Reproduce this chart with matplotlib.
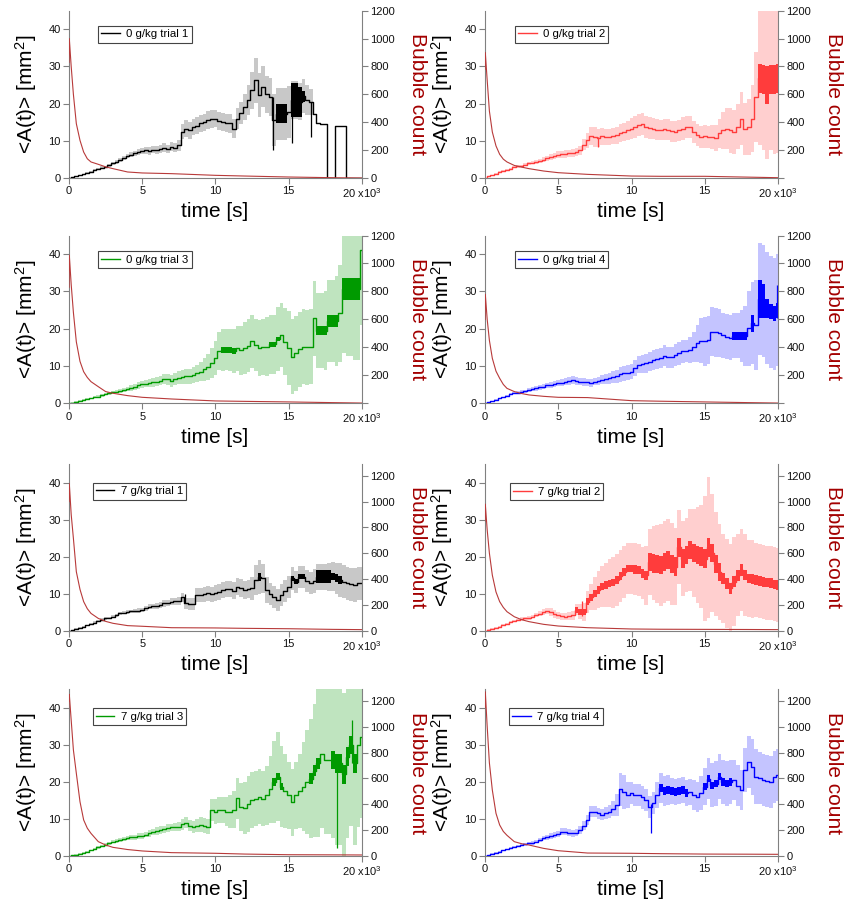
import numpy as np
import matplotlib
matplotlib.use("Agg")
import matplotlib.pyplot as plt

plt.rcParams['font.family'] = ['Liberation Sans', 'DejaVu Sans']
plt.rcParams['mathtext.fontset'] = 'custom'
plt.rcParams['mathtext.rm'] = 'Liberation Sans'
plt.rcParams['mathtext.it'] = 'Liberation Sans:italic'

# time grid of the averaged bubble area, in units of 10^3 s (0 ... 20, step 0.25)
t_k = np.arange(0, 20.001, 0.25)

# ---------- 0 g/kg trial 1 ----------
mean_0g_1 = [0, 0.2, 0.4, 0.7, 1.0, 1.3, 1.7, 2.1, 2.5, 2.8,
             3.0, 3.4, 3.9, 4.3, 4.8, 5.4, 5.9, 6.3, 6.6, 7.0,
             7.3, 7.4, 7.3, 7.6, 7.5, 7.9, 8.2, 7.8, 8.4, 8.2,
             8.8, 12.5, 13.3, 12.8, 13.8, 14.0, 14.7, 15.0, 15.5, 15.8,
             16.0, 15.4, 15.1, 14.8, 14.7, 13.3, 16.0, 17.5, 19.1, 21.0,
             23.6, 26.3, 22.3, 24.5, 22.5, 21.8, 15.5, 17.3, 17.3, 17.3,
             17.8, 21.0, 21.0, 20.5, 22.0, 21.0, 20.5, 17.3, 14.7, 14.6,
             14.5, 0, 0, 14.0, 14.0, 14.0, 0, 0, 0, 0,
             0]
band_0g_1 = [0, 0.1, 0.1, 0.15, 0.2, 0.2, 0.25, 0.25, 0.3, 0.3,
             0.35, 0.4, 0.4, 0.45, 0.5, 0.55, 0.6, 0.65, 0.7, 0.8,
             0.9, 0.9, 1.0, 1.0, 1.0, 1.1, 1.1, 1.2, 1.2, 1.3,
             1.5, 2.0, 2.2, 2.2, 2.2, 2.3, 2.3, 2.3, 2.4, 2.4,
             2.4, 2.4, 2.5, 2.5, 2.5, 2.6, 2.8, 3.0, 3.5, 4.0,
             5.0, 6.0, 6.0, 5.5, 5.0, 5.0, 7.0, 7.0, 7.0, 7.0,
             7.0, 5.0, 5.0, 5.0, 4.5, 4.0, 3.5, 0, 0, 0,
             0, 0, 0, 0, 0, 0, 0, 0, 0, 0,
             0]
dense_0g_1 = [0] * 57 + [2.6, 2.6, 2.6, 0, 4.5, 4.5, 4.0, 1.5] + [0] * 16
spike_t_0g_1 = [13.9, 15.2, 16.5]
spike_lo_0g_1 = [7.4, 9.3, 11.0]
spike_hi_0g_1 = [21.8, 25.4, 20.5]

# ---------- 0 g/kg trial 2 ----------
mean_0g_2 = [0, 0.4, 0.8, 1.2, 1.6, 1.9, 2.1, 2.5, 3.0, 3.1,
             3.2, 3.5, 3.9, 4.1, 4.3, 4.6, 4.9, 5.3, 5.7, 6.0,
             6.3, 6.4, 6.4, 6.6, 6.7, 7.0, 7.5, 9.0, 10.2, 11.3,
             11.1, 10.8, 11.2, 11.0, 11.1, 11.3, 11.5, 12.0, 12.4, 12.8,
             13.3, 13.8, 14.2, 14.5, 13.8, 13.5, 13.3, 13.0, 12.9, 13.1,
             13.0, 12.6, 12.4, 12.8, 13.3, 13.8, 13.8, 12.4, 11.5, 11.0,
             11.2, 11.0, 11.1, 10.8, 12.0, 12.8, 13.3, 12.8, 12.4, 13.8,
             16.0, 13.3, 13.8, 16.0, 21.8, 26.8, 26.5, 25.0, 26.5, 26.5,
             26.8]
band_0g_2 = [0, 0.1, 0.1, 0.2, 0.2, 0.2, 0.3, 0.3, 0.3, 0.3,
             0.35, 0.4, 0.4, 0.45, 0.5, 0.6, 0.7, 0.7, 0.8, 0.8,
             0.9, 0.9, 1.0, 1.0, 1.0, 1.0, 1.2, 1.5, 2.0, 2.5,
             2.7, 2.5, 2.3, 2.2, 2.2, 2.2, 2.3, 2.4, 2.5, 2.6,
             2.8, 3.0, 3.0, 3.0, 3.0, 3.0, 2.8, 2.8, 2.8, 2.8,
             2.8, 2.8, 2.8, 2.8, 3.0, 3.0, 3.0, 3.0, 3.0, 3.0,
             3.0, 3.0, 3.2, 3.5, 4.0, 5.0, 5.5, 6.0, 6.0, 6.0,
             7.0, 7.0, 7.5, 9.0, 12.0, 18.0, 19.0, 20.0, 19.0, 20.0,
             20.0]
dense_0g_2 = [0] * 75 + [4.0, 4.0, 5.0, 4.0, 4.0, 4.0]
spike_t_0g_2 = [7.7]
spike_lo_0g_2 = [8.4]
spike_hi_0g_2 = [11.0]

# ---------- 0 g/kg trial 3 ----------
mean_0g_3 = [0, 0.2, 0.45, 0.7, 0.9, 1.1, 1.3, 1.6, 1.8, 2.1,
             2.4, 2.7, 3.0, 3.1, 3.3, 3.5, 3.8, 4.1, 4.5, 4.8,
             5.1, 5.3, 5.4, 5.6, 5.8, 6.1, 6.5, 6.4, 6.0, 6.5,
             6.9, 7.1, 7.2, 7.3, 7.6, 8.0, 8.5, 9.1, 9.8, 10.8,
             12.1, 14.0, 14.3, 14.4, 14.3, 14.0, 14.8, 14.2, 14.9, 15.5,
             16.6, 15.6, 14.8, 15.0, 15.2, 15.8, 15.8, 17.2, 18.3, 16.5,
             14.8, 12.5, 13.4, 14.5, 15.2, 15.0, 15.2, 22.8, 19.5, 19.5,
             19.5, 22.1, 22.1, 22.1, 24.2, 30.6, 30.6, 30.6, 30.6, 30.6,
             41.0]
band_0g_3 = [0, 0.1, 0.1, 0.1, 0.2, 0.2, 0.2, 0.3, 0.3, 0.3,
             0.3, 0.4, 0.4, 0.4, 0.5, 0.5, 0.6, 0.7, 0.8, 0.9,
             1.0, 1.0, 1.1, 1.2, 1.2, 1.3, 1.4, 1.5, 1.5, 1.6,
             1.8, 1.8, 2.0, 2.0, 2.2, 2.4, 2.6, 3.0, 3.5, 4.0,
             4.5, 5.0, 5.5, 5.5, 5.5, 6.0, 6.0, 6.5, 7.0, 7.0,
             7.0, 7.0, 7.5, 7.5, 8.0, 8.0, 8.0, 8.5, 8.5, 9.0,
             10.0, 10.0, 10.0, 10.0, 10.0, 10.0, 10.0, 10.0, 10.0, 10.0,
             10.5, 11.0, 11.0, 12.0, 13.0, 17.0, 18.0, 18.0, 19.0, 19.0,
             20.0]
dense_0g_3 = ([0] * 42 + [0.8, 0.8, 0.8, 0.8] + [0] * 9 + [0.6, 0.6, 0.6]
              + [0] * 10 + [1.2, 1.2, 1.2, 1.6, 1.6, 1.6, 0, 3.0, 3.0, 3.0, 3.0, 3.0, 0])
spike_t_0g_3 = []
spike_lo_0g_3 = []
spike_hi_0g_3 = []

# ---------- 0 g/kg trial 4 ----------
mean_0g_4 = [0, 0.3, 0.6, 0.9, 1.3, 1.6, 2.0, 2.4, 2.7, 2.9,
             3.1, 3.3, 3.6, 3.8, 4.0, 4.3, 4.5, 4.8, 5.0, 5.2,
             5.4, 5.5, 5.8, 6.0, 6.3, 6.0, 5.8, 5.7, 5.6, 5.5,
             5.8, 6.0, 6.3, 6.5, 6.7, 7.0, 7.2, 7.8, 8.1, 8.2,
             8.5, 9.5, 10.3, 10.5, 10.7, 11.2, 11.6, 11.8, 12.1, 12.8,
             12.4, 12.3, 13.0, 13.4, 13.9, 14.0, 14.3, 15.0, 16.1, 16.8,
             16.6, 17.0, 19.2, 19.0, 18.8, 18.2, 17.9, 17.6, 18.1, 18.1,
             18.1, 18.1, 20.1, 21.5, 21.0, 28.0, 27.5, 25.5, 24.6, 24.0,
             25.0]
band_0g_4 = [0, 0.1, 0.1, 0.2, 0.2, 0.2, 0.3, 0.3, 0.3, 0.4,
             0.4, 0.4, 0.5, 0.5, 0.6, 0.6, 0.7, 0.7, 0.8, 0.8,
             0.8, 0.9, 0.9, 1.0, 1.0, 1.0, 1.0, 1.0, 1.0, 1.0,
             1.0, 1.1, 1.2, 1.3, 1.5, 1.6, 1.8, 2.0, 2.0, 2.0,
             2.0, 2.2, 2.3, 2.5, 2.5, 2.6, 2.6, 2.7, 2.7, 2.8,
             2.8, 2.8, 3.0, 3.0, 3.0, 3.0, 3.5, 4.0, 5.0, 6.0,
             6.5, 6.5, 6.5, 6.5, 6.5, 6.0, 6.0, 6.0, 6.0, 6.0,
             7.0, 8.0, 10.0, 11.0, 12.0, 15.0, 15.0, 15.0, 15.0, 15.0,
             15.0]
dense_0g_4 = [0] * 68 + [1.1, 1.1, 1.1, 1.1, 0, 2.3, 0, 5.0, 4.5, 2.5, 2.0, 2.0, 2.0]
spike_t_0g_4 = [19.9]
spike_lo_0g_4 = [23.0]
spike_hi_0g_4 = [31.8]

# ---------- 7 g/kg trial 1 ----------
mean_7g_1 = [0, 0.2, 0.5, 0.8, 1.1, 1.4, 1.8, 2.2, 2.6, 3.0,
             3.3, 3.5, 3.8, 4.2, 4.7, 4.9, 5.1, 5.2, 5.3, 5.4,
             5.6, 6.0, 6.5, 6.6, 6.7, 7.0, 7.4, 7.5, 7.8, 7.9,
             8.0, 9.0, 7.4, 7.2, 7.1, 9.6, 9.6, 9.8, 10.1, 9.8,
             10.1, 10.5, 11.0, 11.2, 11.3, 10.8, 11.9, 11.5, 11.0, 11.2,
             11.4, 13.7, 14.5, 14.1, 11.0, 10.0, 9.2, 8.3, 9.6, 10.8,
             11.9, 14.1, 13.2, 14.6, 14.6, 13.5, 12.8, 13.5, 14.6, 14.6,
             14.6, 14.6, 14.6, 14.2, 13.7, 13.2, 12.8, 12.5, 12.3, 12.8,
             12.8]
band_7g_1 = [0, 0.1, 0.1, 0.1, 0.2, 0.2, 0.2, 0.3, 0.3, 0.3,
             0.3, 0.3, 0.4, 0.4, 0.4, 0.5, 0.5, 0.5, 0.5, 0.6,
             0.6, 0.6, 0.7, 0.7, 0.8, 0.8, 0.9, 0.9, 1.0, 1.0,
             1.0, 1.2, 1.5, 1.5, 1.6, 1.8, 1.8, 2.0, 2.0, 2.0,
             2.2, 2.2, 2.2, 2.2, 2.2, 2.3, 2.3, 2.4, 2.5, 2.5,
             3.0, 4.0, 4.5, 4.0, 3.5, 3.0, 3.0, 3.0, 3.0, 3.0,
             3.0, 3.0, 3.0, 3.0, 3.0, 3.0, 3.0, 3.2, 3.5, 3.5,
             3.5, 3.8, 4.0, 4.2, 4.5, 4.5, 4.5, 4.5, 4.5, 4.5,
             4.5]
dense_7g_1 = ([0] * 52 + [1.2] + [0] * 8 + [0.7, 0.7, 0.7, 0.7] + [0] * 3
              + [1.8, 1.8, 1.8, 1.8, 1.0, 1.0, 1.0] + [0] * 6)
spike_t_7g_1 = [7.9]
spike_lo_7g_1 = [7.5]
spike_hi_7g_1 = [9.8]

# ---------- 7 g/kg trial 2 ----------
mean_7g_2 = [0, 0.3, 0.5, 0.8, 1.1, 1.5, 1.9, 2.3, 2.6, 2.9,
             3.2, 3.3, 3.5, 3.8, 4.2, 4.6, 5.1, 5.3, 5.0, 4.5,
             4.1, 3.9, 3.8, 4.0, 4.2, 5.6, 5.1, 5.1, 7.8, 9.0,
             10.1, 11.0, 11.9, 12.3, 12.8, 13.0, 13.7, 14.8, 15.9, 16.8,
             16.8, 16.6, 16.4, 15.5, 15.0, 18.6, 18.2, 18.0, 17.7, 18.5,
             19.1, 18.0, 17.3, 22.5, 19.5, 20.5, 21.8, 21.0, 20.4, 20.0,
             19.5, 22.5, 21.0, 18.0, 15.9, 14.0, 12.8, 11.4, 13.2, 15.0,
             16.4, 15.0, 14.1, 14.0, 13.7, 13.5, 13.2, 13.0, 12.8, 12.5,
             12.3]
band_7g_2 = [0, 0.1, 0.1, 0.2, 0.2, 0.2, 0.3, 0.3, 0.3, 0.3,
             0.4, 0.4, 0.5, 0.5, 0.6, 0.7, 0.8, 0.9, 1.0, 1.0,
             1.0, 1.0, 1.0, 1.0, 1.2, 1.5, 2.0, 2.5, 3.0, 3.5,
             4.5, 5.0, 5.5, 6.0, 6.5, 7.0, 7.0, 7.0, 7.0, 7.0,
             7.0, 7.0, 7.0, 7.0, 8.0, 9.0, 10.0, 10.5, 11.0, 11.0,
             11.0, 11.0, 10.5, 10.0, 10.0, 10.0, 11.0, 12.0, 13.0, 14.0,
             17.0, 19.0, 16.0, 14.0, 13.0, 12.0, 12.0, 12.0, 12.0, 11.0,
             11.0, 11.0, 10.5, 10.5, 10.0, 10.0, 10.0, 10.0, 10.0, 10.0,
             10.0]
dense_7g_2 = ([0] * 25 + [0.8, 0.8, 0.8] + [1.0] * 13 + [1.2] * 4
              + [2.5] * 20 + [1.5] * 6 + [1.3] * 10)
spike_t_7g_2 = [6.6]
spike_lo_7g_2 = [4.0]
spike_hi_7g_2 = [8.0]

# ---------- 7 g/kg trial 3 ----------
mean_7g_3 = [0, 0.2, 0.4, 0.6, 0.9, 1.2, 1.5, 1.9, 2.3, 2.7,
             3.1, 3.5, 3.9, 4.1, 4.4, 4.6, 4.8, 5.0, 5.1, 5.3,
             5.5, 5.8, 6.1, 6.5, 6.8, 7.0, 7.2, 7.5, 7.7, 7.8,
             7.9, 8.5, 9.0, 8.2, 7.9, 8.2, 8.4, 8.2, 7.9, 12.4,
             12.0, 12.3, 12.4, 12.0, 12.0, 12.5, 15.6, 13.3, 12.9, 14.0,
             15.1, 15.5, 16.0, 15.5, 16.4, 18.0, 20.0, 21.4, 18.7, 17.5,
             16.4, 14.5, 16.4, 17.5, 18.7, 20.0, 20.9, 23.0, 25.0, 27.5,
             25.9, 25.9, 25.9, 25.0, 25.0, 22.0, 26.8, 30.0, 25.0, 29.9,
             32.2]
band_7g_3 = [0, 0.1, 0.1, 0.1, 0.2, 0.2, 0.2, 0.3, 0.3, 0.3,
             0.4, 0.4, 0.5, 0.5, 0.5, 0.6, 0.6, 0.7, 0.7, 0.8,
             0.8, 0.8, 0.9, 0.9, 1.0, 1.0, 1.0, 1.0, 1.0, 1.0,
             1.2, 1.4, 1.5, 1.5, 1.6, 1.8, 2.0, 2.0, 2.0, 3.0,
             3.5, 3.5, 3.5, 4.0, 4.5, 5.0, 5.5, 6.5, 7.0, 7.5,
             7.5, 7.5, 7.5, 7.5, 8.0, 9.0, 11.0, 12.0, 11.0, 10.0,
             9.0, 9.0, 9.0, 10.0, 12.0, 14.0, 16.0, 18.0, 20.0, 20.0,
             20.0, 20.0, 21.0, 22.0, 22.0, 22.0, 22.0, 22.0, 22.0, 22.0,
             22.0]
dense_7g_3 = ([0] * 56 + [1.0, 1.0, 1.0] + [0] * 7 + [1.5, 1.5, 1.5]
              + [0] * 3 + [2.5] * 7 + [0, 0])
spike_t_7g_3 = [18.3, 19.3]
spike_lo_7g_3 = [2.1, 25.0]
spike_hi_7g_3 = [24.0, 36.7]

# ---------- 7 g/kg trial 4 ----------
mean_7g_4 = [0, 0.3, 0.6, 0.9, 1.2, 1.5, 1.8, 2.2, 2.5, 2.8,
             3.0, 3.2, 3.4, 3.6, 3.9, 4.3, 4.8, 5.1, 5.4, 5.6,
             5.9, 6.6, 6.6, 6.3, 6.1, 6.3, 7.0, 8.2, 9.7, 12.0,
             12.0, 11.5, 11.1, 11.6, 12.0, 12.8, 13.8, 18.0, 17.3, 16.5,
             16.9, 16.5, 16.4, 15.8, 15.1, 13.3, 14.2, 16.5, 18.3, 17.5,
             17.8, 17.5, 17.3, 17.5, 17.8, 17.0, 17.3, 16.5, 16.0, 17.0,
             18.7, 20.9, 19.1, 19.5, 21.4, 20.0, 19.6, 20.0, 20.5, 19.0,
             17.8, 23.2, 25.4, 24.0, 21.4, 21.0, 20.5, 20.3, 20.0, 21.4,
             21.8]
band_7g_4 = [0, 0.1, 0.1, 0.1, 0.2, 0.2, 0.2, 0.3, 0.3, 0.3,
             0.3, 0.4, 0.4, 0.5, 0.5, 0.6, 0.6, 0.7, 0.7, 0.8,
             0.8, 0.9, 0.9, 1.0, 1.0, 1.0, 1.0, 1.2, 1.4, 1.5,
             1.5, 1.5, 1.5, 1.5, 1.8, 2.0, 3.0, 4.5, 4.5, 3.5,
             3.0, 3.0, 3.0, 3.0, 3.0, 3.0, 3.0, 3.5, 4.0, 4.0,
             4.0, 3.5, 3.5, 3.5, 3.5, 3.5, 3.5, 4.0, 4.0, 4.5,
             5.0, 5.5, 6.0, 6.0, 6.0, 6.0, 6.0, 6.0, 5.5, 5.5,
             5.5, 6.0, 7.0, 7.5, 7.5, 7.0, 7.0, 7.0, 7.0, 7.0,
             7.0]
dense_7g_4 = [0] * 48 + [1.0] * 8 + [0] * 4 + [1.0] * 8 + [0] * 13
spike_t_7g_4 = [11.3]
spike_lo_7g_4 = [6.1]
spike_hi_7g_4 = [14.0]

# bubble count (right axis), sampled at these times in 10^3 s
bubble_t_k = [0, 0.02, 0.15, 0.3, 0.5, 0.75, 1.0, 1.25, 1.5, 2, 2.5, 3, 4, 5, 7, 10, 12, 15, 18, 20]
bubbles_0g_1 = [830, 1000, 800, 600, 390, 270, 186, 138, 115, 98, 80, 67, 43, 36, 31, 19, 14, 7, 2, 0]
bubbles_0g_2 = [780, 900, 700, 480, 330, 230, 170, 135, 115, 90, 78, 67, 50, 38, 26, 14, 12, 12, 6, 2]
bubbles_0g_3 = [830, 1060, 850, 650, 440, 300, 226, 185, 155, 119, 84, 72, 55, 43, 31, 17, 14, 10, 5, 2]
bubbles_0g_4 = [600, 780, 600, 450, 322, 230, 179, 135, 107, 84, 70, 60, 50, 43, 41, 19, 15, 10, 5, 2]
bubbles_7g_1 = [1000, 1140, 900, 715, 457, 320, 225, 170, 134, 95, 72, 57, 39, 34, 23, 21, 18, 15, 10, 8]
bubbles_7g_2 = [850, 980, 780, 600, 430, 300, 225, 180, 147, 108, 85, 70, 49, 36, 23, 13, 11, 10, 9, 8]
bubbles_7g_3 = [1200, 1250, 1050, 820, 640, 420, 279, 215, 175, 111, 85, 67, 50, 39, 26, 21, 15, 10, 9, 8]
bubbles_7g_4 = [1150, 1270, 1000, 720, 510, 330, 240, 190, 160, 111, 95, 85, 59, 41, 23, 21, 18, 15, 14, 13]

labels = ["0 g/kg trial 1", "0 g/kg trial 2", "0 g/kg trial 3", "0 g/kg trial 4",
          "7 g/kg trial 1", "7 g/kg trial 2", "7 g/kg trial 3", "7 g/kg trial 4"]
line_colors = ["#000000", "#ff3c3c", "#009a00", "#0000ff",
               "#000000", "#ff3c3c", "#009a00", "#0000ff"]
band_colors = ["#c8c8c8", "#ffcfcf", "#bfe4bf", "#c4c4ff",
               "#c8c8c8", "#ffcfcf", "#bfe4bf", "#c4c4ff"]
bubble_color = "#b83a3a"
count_label_color = "#a30000"
spine_color = "#808080"

series = [
    (mean_0g_1, band_0g_1, dense_0g_1, spike_t_0g_1, spike_lo_0g_1, spike_hi_0g_1, bubbles_0g_1),
    (mean_0g_2, band_0g_2, dense_0g_2, spike_t_0g_2, spike_lo_0g_2, spike_hi_0g_2, bubbles_0g_2),
    (mean_0g_3, band_0g_3, dense_0g_3, spike_t_0g_3, spike_lo_0g_3, spike_hi_0g_3, bubbles_0g_3),
    (mean_0g_4, band_0g_4, dense_0g_4, spike_t_0g_4, spike_lo_0g_4, spike_hi_0g_4, bubbles_0g_4),
    (mean_7g_1, band_7g_1, dense_7g_1, spike_t_7g_1, spike_lo_7g_1, spike_hi_7g_1, bubbles_7g_1),
    (mean_7g_2, band_7g_2, dense_7g_2, spike_t_7g_2, spike_lo_7g_2, spike_hi_7g_2, bubbles_7g_2),
    (mean_7g_3, band_7g_3, dense_7g_3, spike_t_7g_3, spike_lo_7g_3, spike_hi_7g_3, bubbles_7g_3),
    (mean_7g_4, band_7g_4, dense_7g_4, spike_t_7g_4, spike_lo_7g_4, spike_hi_7g_4, bubbles_7g_4),
]

# panel geometry (figure fractions)
col_left = [69 / 845, 485 / 845]
col_width = 293 / 845
row_box = [(0.8042, 0.1840), (0.5563, 0.1846), (0.3062, 0.1832), (0.0583, 0.1835)]
count_top = [1200, 1200, 1290, 1290]
legend_anchor = [[(0.099, 0.909), (0.102, 0.909)],
                 [(0.099, 0.907), (0.102, 0.907)],
                 [(0.081, 0.887), (0.085, 0.885)],
                 [(0.081, 0.886), (0.082, 0.886)]]
count_zero_label = [[True, False], [False, False], [True, True], [True, True]]

fig = plt.figure(figsize=(8.45, 9.09), dpi=100)
fig.patch.set_facecolor("white")

t_s = t_k * 1000.0
tick_kw = dict(direction="out", length=4, width=0.8, labelsize=8, pad=2,
               color=spine_color, labelcolor="#111111")

for idx, (mean, band, dense, sp_t, sp_lo, sp_hi, bubbles) in enumerate(series):
    row, col = idx // 2, idx % 2
    bottom, height = row_box[row]
    ax = fig.add_axes([col_left[col], bottom, col_width, height])
    m = np.asarray(mean, float)
    h = np.asarray(band, float)
    w = np.asarray(dense, float)
    color = line_colors[idx]

    ax.fill_between(t_s, m - h, m + h, step="mid", color=band_colors[idx], lw=0, zorder=1)
    ax.fill_between(t_s, m - w, m + w, step="mid", color=color, lw=0, zorder=2)
    line, = ax.plot(t_s, m, drawstyle="steps-mid", color=color, lw=1.0, zorder=3)
    if sp_t:
        ax.vlines(np.asarray(sp_t) * 1000.0, sp_lo, sp_hi, color=color, lw=0.9, zorder=3)

    ax.set_xlim(0, 20000)
    ax.set_ylim(0, 45)
    ax.set_xticks([0, 5000, 10000, 15000, 20000])
    ax.set_xticklabels(["0", "5", "10", "15", r"20 x10$^3$"])
    ax.set_yticks([0, 10, 20, 30, 40])
    ax.tick_params(axis="both", **tick_kw)
    for s in ("top", "right"):
        ax.spines[s].set_visible(False)
    for s in ("left", "bottom"):
        ax.spines[s].set_color(spine_color)
        ax.spines[s].set_linewidth(0.8)

    ax2 = ax.twinx()
    ax2.plot(np.asarray(bubble_t_k) * 1000.0, bubbles, color=bubble_color, lw=0.8, zorder=2)
    ax2.set_ylim(0, count_top[row])
    ticks = [0, 200, 400, 600, 800, 1000, 1200]
    ax2.set_yticks(ticks)
    ax2.set_yticklabels([("0" if count_zero_label[row][col] else "") if v == 0 else str(v) for v in ticks])
    ax2.tick_params(axis="y", **tick_kw)
    for s in ("top", "left", "bottom"):
        ax2.spines[s].set_visible(False)
    ax2.spines["right"].set_color(spine_color)
    ax2.spines["right"].set_linewidth(0.8)

    ax.text(-0.147, 0.5, r"<A(t)> [mm$^2$]", transform=ax.transAxes, rotation=90,
            ha="center", va="center", fontsize=15, color="black")
    ax.text(1.188, 0.5, "Bubble count", transform=ax.transAxes, rotation=270,
            ha="center", va="center", fontsize=15, color=count_label_color)
    ax.text(0.498, -0.203, "time [s]", transform=ax.transAxes,
            ha="center", va="center", fontsize=15, color="black")

    leg = ax2.legend([line], [labels[idx]], loc="upper left", bbox_to_anchor=legend_anchor[row][col],
                     frameon=True, fancybox=False, edgecolor="#444444", framealpha=1,
                     fontsize=8.2, handlelength=1.6, handletextpad=0.55, borderpad=0.3,
                     borderaxespad=0)
    leg.get_frame().set_linewidth(0.8)

fig.savefig("out.png", dpi=100)
